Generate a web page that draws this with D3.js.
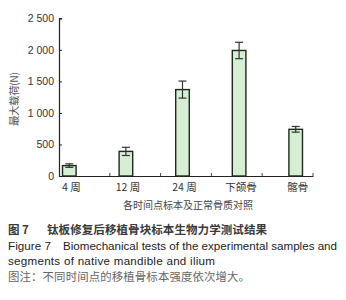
<!DOCTYPE html>
<html><head><meta charset="utf-8">
<script src="https://cdn.jsdelivr.net/npm/d3@7"></script>
<style>
html,body{margin:0;padding:0;background:#fff;}
svg{display:block;}
</style>
</head><body>
<svg id="chart" width="346" height="300"></svg>
<script>
const categories = ["4 周", "12 周", "24 周", "下颌骨", "髂骨"];
const values = [165, 390, 1370, 1990, 740];
const errors = [28, 65, 135, 130, 45];
const yTicks = [0, 500, 1000, 1500, 2000, 2500];
const yLabel = "最大载荷(N)";
const xLabel = "各时间点标本及正常骨质对照";
const captionCN = ["图 7", "钛板修复后移植骨块标本生物力学测试结果"];
const captionEN = ["Figure 7", "Biomechanical tests of the experimental samples and", "segments of native mandible and ilium"];
const note = "图注：不同时间点的移植骨标本强度依次增大。";

const svg = d3.select("#chart");
const latin = "'Liberation Sans', Arial, sans-serif";
const cjk = "'Noto Sans CJK SC', 'Liberation Sans', sans-serif";

const y = d3.scaleLinear().domain([0, 2500]).range([176, 18.3]);
const xAxisScale = d3.scaleBand().domain(categories).range([59, 313]);
const x = d3.scaleBand().domain(categories).range([41, 324]).paddingInner(0.76).paddingOuter(0.38);

const fmt = v => d3.format(",")(v).replace(/,/g, " ");

// y axis
const yAxis = svg.append("g").attr("transform", "translate(59,0)")
  .call(d3.axisLeft(y).tickValues(yTicks).tickSize(-3).tickPadding(5).tickFormat(fmt));
yAxis.select(".domain").attr("stroke", "#222").attr("stroke-width", 1.2);
yAxis.selectAll(".tick line").attr("stroke", "#222");
yAxis.selectAll(".tick text").attr("font-family", latin).attr("font-size", 10.5).attr("fill", "#333");

// x axis
const xAxis = svg.append("g").attr("transform", "translate(0,176)")
  .call(d3.axisBottom(xAxisScale).tickSize(0).tickFormat(""));
xAxis.select(".domain").attr("stroke", "#222").attr("stroke-width", 1.2);
xAxis.selectAll(".tick").remove();
svg.append("g").selectAll("line").data(categories).join("line")
  .attr("x1", d => xAxisScale(d) + xAxisScale.bandwidth())
  .attr("x2", d => xAxisScale(d) + xAxisScale.bandwidth())
  .attr("y1", 176).attr("y2", 173).attr("stroke", "#444");

// bars
svg.append("g").selectAll("rect").data(categories).join("rect")
  .attr("x", d => x(d)).attr("width", x.bandwidth())
  .attr("y", (d, i) => y(values[i])).attr("height", (d, i) => y(0) - y(values[i]))
  .attr("fill", "#d6eed3").attr("stroke", "#1c2a1c").attr("stroke-width", 1.4);

// error bars
const eg = svg.append("g").attr("stroke", "#333").attr("stroke-width", 1.2);
categories.forEach((c, i) => {
  const cx = x(c) + x.bandwidth() / 2;
  eg.append("line").attr("x1", cx).attr("x2", cx).attr("y1", y(values[i] + errors[i])).attr("y2", y(values[i] - errors[i]));
  [values[i] + errors[i], values[i] - errors[i]].forEach(v => {
    eg.append("line").attr("x1", cx - 4).attr("x2", cx + 4).attr("y1", y(v)).attr("y2", y(v));
  });
});

// category labels
svg.append("g").selectAll("text").data(categories).join("text")
  .attr("x", d => x(d) + x.bandwidth() / 2 + 2).attr("y", 191)
  .attr("text-anchor", "middle").attr("font-family", cjk).attr("font-size", 10.5).attr("fill", "#333")
  .text(d => d);

// axis titles
svg.append("text").attr("x", 188).attr("y", 209).attr("text-anchor", "middle")
  .attr("font-family", cjk).attr("font-size", 10).attr("fill", "#444").text(xLabel);
svg.append("text").attr("transform", "translate(18,99) rotate(-90)").attr("text-anchor", "middle")
  .attr("font-family", cjk).attr("font-size", 10.5).attr("fill", "#555")
  .attr("textLength", 54).attr("lengthAdjust", "spacing").text(yLabel);

// captions
const cap = svg.append("text").attr("y", 234).attr("font-family", cjk).attr("font-size", 11.5)
  .attr("font-weight", "bold").attr("fill", "#3a3a3a");
cap.append("tspan").attr("x", 8).text(captionCN[0]);
cap.append("tspan").attr("x", 47).attr("textLength", 220).attr("lengthAdjust", "spacing").text(captionCN[1]);

const en1 = svg.append("text").attr("y", 250).attr("font-family", latin).attr("font-size", 11.6).attr("fill", "#222");
en1.append("tspan").attr("x", 8).attr("textLength", 43).attr("lengthAdjust", "spacing").text(captionEN[0]);
en1.append("tspan").attr("x", 63).attr("textLength", 274).attr("lengthAdjust", "spacing").text(captionEN[1]);
svg.append("text").attr("x", 8).attr("y", 265).attr("font-family", latin).attr("font-size", 11.6).attr("fill", "#222")
  .attr("textLength", 207).attr("lengthAdjust", "spacing").text(captionEN[2]);

svg.append("text").attr("x", 8).attr("y", 281).attr("font-family", cjk).attr("font-size", 11.4).attr("fill", "#666")
  .attr("textLength", 242).attr("lengthAdjust", "spacing").text(note);
</script>
</body></html>
